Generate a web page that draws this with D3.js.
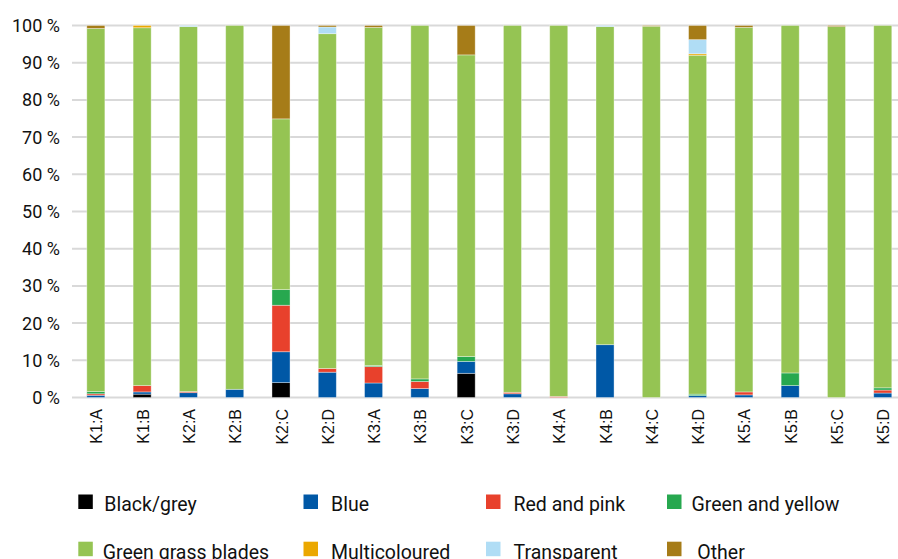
<!DOCTYPE html>
<html><head><meta charset="utf-8">
<script src="https://cdn.jsdelivr.net/npm/d3@7"></script>
<style>body{margin:0;background:#fff;}svg{display:block;}</style>
</head><body>
<svg id="chart" width="898" height="559"></svg>
<script>
const categories = ["K1:A","K1:B","K2:A","K2:B","K2:C","K2:D","K3:A","K3:B","K3:C","K3:D","K4:A","K4:B","K4:C","K4:D","K5:A","K5:B","K5:C","K5:D"];
const seriesNames = ["Black/grey","Blue","Red and pink","Green and yellow","Green grass blades","Multicoloured","Transparent","Other"];
const seriesColors = ["#000000","#0058a6","#e8412c","#27a84f","#95c453","#eba800","#b0ddf5","#a67c18"];
const blackGrey      = [0,   0.9, 0,   0,   4.0, 0,   0,   0,   6.5, 0,   0,   0,    0,   0,   0,   0,   0,   0];
const blue           = [0.6, 0.6, 1.3, 2.2, 8.3, 6.8, 3.9, 2.4, 3.2, 1.0, 0,   14.2, 0,   0.5, 0.7, 3.2, 0,   1.2];
const redPink        = [0.4, 1.7, 0.3, 0,   12.5,1.0, 4.4, 1.9, 0,   0.4, 0.3, 0,    0,   0,   0.8, 0,   0,   0.8];
const greenYellow    = [0.6, 0,   0,   0,   4.2, 0,   0.3, 0.7, 1.3, 0,   0,   0,    0,   0.4, 0,   3.4, 0,   0.6];
const grassBlades    = [97.6,96.2,98.1,97.8,45.9,90.0,90.9,95.0,81.1,98.6,99.7,85.5, 99.8,91.1,98.0,93.4,99.7,97.4];
const multicoloured  = [0,   0.6, 0,   0,   0,   0,   0,   0,   0,   0,   0,   0,    0,   0.4, 0,   0,   0,   0];
const transparent    = [0,   0,   0.3, 0,   0,   1.8, 0,   0,   0,   0,   0,   0.3,  0,   3.8, 0,   0,   0,   0];
const other          = [0.8, 0,   0,   0,   25.1,0.4, 0.5, 0,   7.9, 0,   0,   0,    0.2, 3.8, 0.5, 0,   0.3, 0];
const yTicks = [0,10,20,30,40,50,60,70,80,90,100];

const seriesValues = [blackGrey, blue, redPink, greenYellow, grassBlades, multicoloured, transparent, other];
const rows = categories.map((c,i)=>{const o={cat:c}; seriesNames.forEach((s,j)=>o[s]=seriesValues[j][i]); return o;});

const svg = d3.select("#chart");
const x = d3.scaleBand().domain(categories).range([72.7,905.9]).paddingInner(0.61).paddingOuter(0.305);
const y = d3.scaleLinear().domain([0,100]).range([397.5,25.5]);

// gridlines
svg.append("g").selectAll("line").data(yTicks).join("line")
  .attr("x1",72).attr("x2",906).attr("y1",d=>y(d)).attr("y2",d=>y(d))
  .attr("stroke","#d9d9d9").attr("stroke-width",2);

// y labels
svg.append("g").selectAll("text").data(yTicks).join("text")
  .attr("x",60).attr("y",d=>y(d)).attr("dy","0.36em").attr("text-anchor","end")
  .attr("font-family","Roboto, 'Open Sans', sans-serif").attr("font-size",18).attr("fill","#111")
  .text(d=>d+" %");

const stack = d3.stack().keys(seriesNames)(rows);
svg.append("g").selectAll("g").data(stack).join("g")
  .attr("fill",(d,i)=>seriesColors[i])
  .selectAll("rect").data(d=>d).join("rect")
  .attr("x",d=>x(d.data.cat)).attr("width",x.bandwidth())
  .attr("y",d=>y(d[1])).attr("height",d=>Math.max(0,y(d[0])-y(d[1])))
  .attr("stroke","rgba(255,255,255,0.45)").attr("stroke-width",0.8);

// x labels
svg.append("g").selectAll("text").data(categories).join("text")
  .attr("transform",d=>`translate(${x(d)+x.bandwidth()/2+1},409) rotate(-90)`)
  .attr("text-anchor","end").attr("dy","0.35em")
  .attr("font-family","'Liberation Sans', Arial, sans-serif").attr("font-size",16).attr("fill","#111")
  .text(d=>d);

// legend
const legendPos = [
  {sx:78.3,tx:104.3,sy:494.5,ty:510.7},{sx:303.5,tx:331,sy:494.5,ty:510.7},{sx:486,tx:513.5,sy:494.5,ty:510.7},{sx:667,tx:691.5,sy:494.5,ty:510.7},
  {sx:78.3,tx:102.7,sy:541.7,ty:558.5},{sx:303.5,tx:331,sy:541.7,ty:558.5},{sx:486,tx:513.5,sy:541.7,ty:558.5},{sx:667,tx:697.3,sy:541.7,ty:558.5}
];
const lg = svg.append("g").selectAll("g").data(seriesNames).join("g");
lg.append("rect").attr("x",(d,i)=>legendPos[i].sx).attr("y",(d,i)=>legendPos[i].sy)
  .attr("width",14.5).attr("height",14.5).attr("fill",(d,i)=>seriesColors[i]);
lg.append("text").attr("x",(d,i)=>legendPos[i].tx).attr("y",(d,i)=>legendPos[i].ty)
  .attr("font-family","Roboto, 'Open Sans', sans-serif").attr("font-size",19.5).attr("fill","#111")
  .text(d=>d);
</script>
</body></html>
